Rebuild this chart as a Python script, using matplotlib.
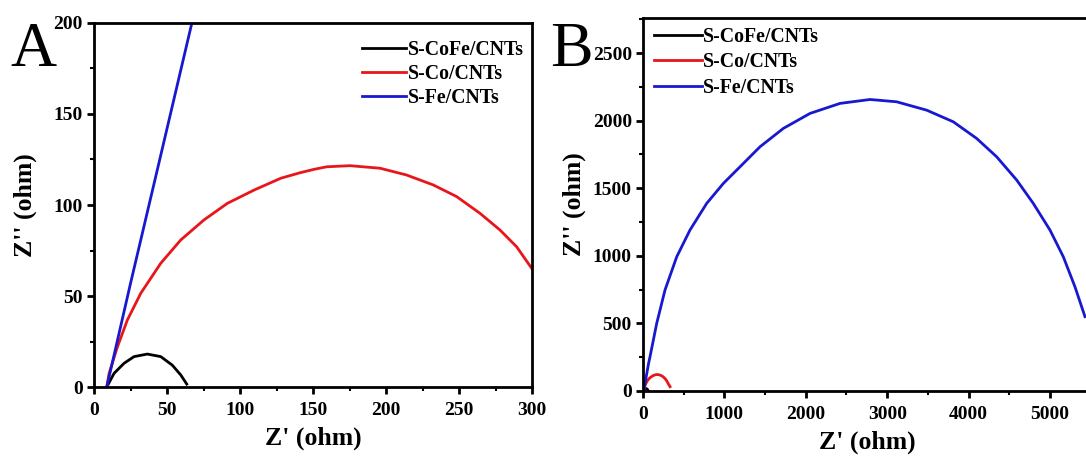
import matplotlib
matplotlib.use("Agg")
import matplotlib.pyplot as plt
from matplotlib.ticker import MultipleLocator

plt.rcParams['font.family'] = ['Liberation Serif', 'DejaVu Serif']
plt.rcParams['font.weight'] = 'bold'

# -------------------------
# Nyquist data
# -------------------------
cofe_x = [8.7, 13.7, 20.5, 27.4, 36.5, 45.7, 53.6, 59.4, 63.5]
cofe_y = [0, 7.5, 13, 16.7, 18.1, 16.7, 12, 6.6, 1.6]

co_x = [8.7, 10.3, 16, 22.8, 32, 45.7, 59.4, 75.3, 91.3, 109.6, 127.9, 141, 150.7,
        159.4, 175.3, 195.9, 214, 232.4, 248.4, 264.4, 278, 289.5, 299.8, 316, 332]
co_y = [0, 7.5, 22, 36.8, 51.5, 68, 80.8, 91.8, 100.9, 108.2, 114.7, 117.7, 119.6,
        121, 121.6, 120.2, 116.5, 111, 104.6, 95.4, 86.3, 77, 65.2, 48, 32]

fe_x = [8.7, 25, 45, 67, 86, 168, 270, 414, 577, 782, 987, 1192, 1437, 1724, 2052,
        2420, 2789, 3116, 3485, 3812, 4099, 4345, 4591, 4795, 5000, 5164, 5307, 5430]
fe_y = [0, 57, 125, 200, 254, 500, 747, 993, 1191, 1388, 1536, 1659, 1807, 1943, 2054,
        2128, 2157, 2140, 2078, 1992, 1869, 1733, 1561, 1388, 1191, 993, 771, 550]

labels = ["S-CoFe/CNTs", "S-Co/CNTs", "S-Fe/CNTs"]
colors = ["black", "#e8161b", "#1818d0"]

fig = plt.figure(figsize=(10.86, 4.58), dpi=100)

axA = fig.add_axes([0.0866, 0.155, 0.4033, 0.7948])
axB = fig.add_axes([0.5921, 0.1463, 0.4122, 0.8144])


def style(ax, xmaj, ymaj, ypad):
    ax.xaxis.set_major_locator(MultipleLocator(xmaj))
    ax.xaxis.set_minor_locator(MultipleLocator(xmaj / 2))
    ax.yaxis.set_major_locator(MultipleLocator(ymaj))
    ax.yaxis.set_minor_locator(MultipleLocator(ymaj / 2))
    ax.tick_params(which='major', direction='out', length=5, width=2,
                   labelsize=14, pad=3)
    ax.tick_params(axis='x', which='major', pad=6)
    ax.tick_params(which='minor', direction='out', length=3, width=1.5)
    for s in ax.spines.values():
        s.set_linewidth(2)
    for lab in ax.get_xticklabels() + ax.get_yticklabels():
        lab.set_fontweight('bold')
    ax.set_xlabel("Z' (ohm)", fontsize=18.5, fontweight='bold', labelpad=5)
    ax.set_ylabel("Z'' (ohm)", fontsize=18.5, fontweight='bold', labelpad=ypad)


for ax in (axA, axB):
    for xs, ys, lab, c in zip([cofe_x, co_x, fe_x], [cofe_y, co_y, fe_y], labels, colors):
        ax.plot(xs, ys, color=c, lw=2, label=lab)

axA.set_xlim(0, 300)
axA.set_ylim(0, 200)
style(axA, 50, 50, 12)
axA.legend(loc='upper right', bbox_to_anchor=(1.0, 0.975), frameon=False,
           handlelength=2.2, handletextpad=0.1, labelspacing=0.2, borderaxespad=0,
           prop={'weight': 'bold', 'size': 14.3})

axB.set_xlim(0, 5500)
axB.set_ylim(0, 2760)
style(axB, 1000, 500, 5)
axB.legend(loc='upper left', bbox_to_anchor=(0.0, 1.005), frameon=False,
           handlelength=2.4, handletextpad=0.05, labelspacing=0.27, borderaxespad=0.15,
           prop={'weight': 'bold', 'size': 14.3})

fig.text(0.010, 0.855, "A", fontsize=46, fontweight='normal')
fig.text(0.507, 0.855, "B", fontsize=46, fontweight='normal')

fig.savefig("out.png", dpi=100)
